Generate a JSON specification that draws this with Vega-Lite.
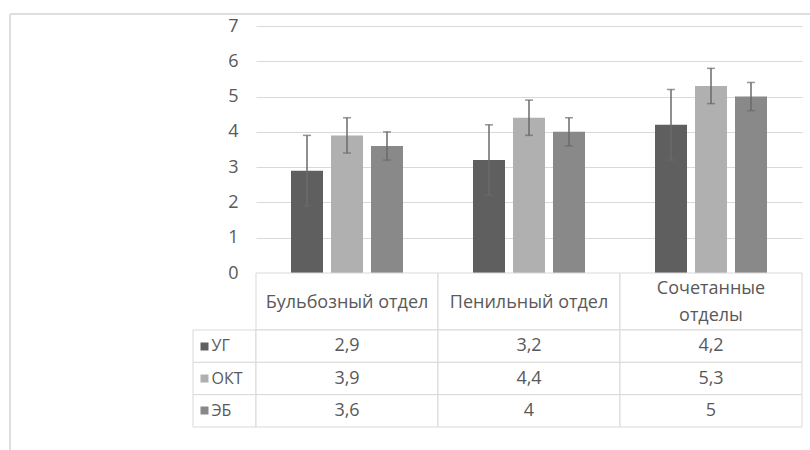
{
  "$schema": "https://vega.github.io/schema/vega-lite/v6.json",
  "padding": {"left": 9, "top": 13, "right": 0, "bottom": 0},
  "background": "white",
  "config": {
    "view": {"stroke": null},
    "font": "Open Sans",
    "locale": {"number": {"decimal": ",", "thousands": " ", "grouping": [3], "currency": ["", ""]}}
  },
  "datasets": {
    "d": [
      {"cat": "Бульбозный отдел", "series": "УГ", "value": 2.9, "lo": 1.9, "hi": 3.9},
      {"cat": "Бульбозный отдел", "series": "ОКТ", "value": 3.9, "lo": 3.4, "hi": 4.4},
      {"cat": "Бульбозный отдел", "series": "ЭБ", "value": 3.6, "lo": 3.2, "hi": 4.0},
      {"cat": "Пенильный отдел", "series": "УГ", "value": 3.2, "lo": 2.2, "hi": 4.2},
      {"cat": "Пенильный отдел", "series": "ОКТ", "value": 4.4, "lo": 3.9, "hi": 4.9},
      {"cat": "Пенильный отдел", "series": "ЭБ", "value": 4.0, "lo": 3.6, "hi": 4.4},
      {"cat": "Сочетанные отделы", "series": "УГ", "value": 4.2, "lo": 3.2, "hi": 5.2},
      {"cat": "Сочетанные отделы", "series": "ОКТ", "value": 5.3, "lo": 4.8, "hi": 5.8},
      {"cat": "Сочетанные отделы", "series": "ЭБ", "value": 5.0, "lo": 4.6, "hi": 5.4}
    ],
    "h": [
      {"cat": "Бульбозный отдел", "header": "Бульбозный отдел"},
      {"cat": "Пенильный отдел", "header": "Пенильный отдел"},
      {"cat": "Сочетанные отделы", "header": "Сочетанные\nотделы"}
    ],
    "s": [
      {"series": "УГ"},
      {"series": "ОКТ"},
      {"series": "ЭБ"}
    ],
    "one": [{}]
  },
  "columns": 4,
  "spacing": 0,
  "bounds": "flush",
  "align": "each",
  "resolve": {"scale": {"x": "independent", "y": "independent", "color": "independent", "xOffset": "independent"}},
  "concat": [
    {
      "width": 183,
      "height": 12,
      "data": {"name": "one"},
      "layer": [
        {
          "mark": {"type": "rule", "color": "#dedede", "strokeWidth": 2},
          "encoding": {"y": {"datum": 1, "type": "quantitative", "scale": {"domain": [0, 1]}, "axis": null}}
        },
        {
          "mark": {"type": "rule", "color": "#dedede", "strokeWidth": 2},
          "encoding": {"x": {"datum": 0, "type": "quantitative", "scale": {"domain": [0, 1]}, "axis": null}}
        }
      ]
    },
    {
      "width": 63,
      "height": 12,
      "data": {"name": "one"},
      "mark": {"type": "rule", "color": "#dedede", "strokeWidth": 2},
      "encoding": {"y": {"datum": 1, "type": "quantitative", "scale": {"domain": [0, 1]}, "axis": null}}
    },
    {
      "width": 546,
      "height": 12,
      "data": {"name": "one"},
      "mark": {"type": "rule", "color": "#dedede", "strokeWidth": 2},
      "encoding": {"y": {"datum": 1, "type": "quantitative", "scale": {"domain": [0, 1]}, "axis": null}}
    },
    {
      "width": 9,
      "height": 12,
      "data": {"name": "one"},
      "mark": {"type": "rule", "color": "#dedede", "strokeWidth": 2},
      "encoding": {"y": {"datum": 1, "type": "quantitative", "scale": {"domain": [0, 1]}, "axis": null}}
    },
    {
      "width": 183,
      "height": 247,
      "data": {"name": "one"},
      "mark": {"type": "rule", "color": "#dedede", "strokeWidth": 2},
      "encoding": {"x": {"datum": 0, "type": "quantitative", "scale": {"domain": [0, 1]}, "axis": null}}
    },
    {
      "width": 63,
      "height": 247,
      "data": {"name": "one"},
      "mark": {"type": "point", "opacity": 0},
      "encoding": {}
    },
    {
      "width": 546,
      "height": 247,
      "data": {"name": "d"},
      "encoding": {
        "x": {
          "field": "cat",
          "type": "nominal",
          "scale": {"domain": ["Бульбозный отдел", "Пенильный отдел", "Сочетанные отделы"], "paddingInner": 0, "paddingOuter": 0},
          "axis": null
        },
        "xOffset": {
          "field": "series",
          "type": "nominal",
          "scale": {"domain": ["УГ", "ОКТ", "ЭБ"], "paddingInner": 0.2, "paddingOuter": 0.875}
        }
      },
      "layer": [
        {
          "mark": {"type": "bar"},
          "encoding": {
            "y": {
              "field": "value",
              "type": "quantitative",
              "title": null,
              "scale": {"domain": [0, 7], "nice": false},
              "axis": {
                "values": [0, 1, 2, 3, 4, 5, 6, 7],
                "labelOverlap": false,
                "grid": true,
                "gridColor": "#d9d9d9",
                "gridWidth": 1,
                "domain": false,
                "ticks": false,
                "labelFontSize": 18,
                "labelColor": "#595959",
                "labelFont": "Open Sans",
                "labelPadding": 18
              }
            },
            "color": {
              "field": "series",
              "type": "nominal",
              "scale": {"domain": ["УГ", "ОКТ", "ЭБ"], "range": ["#5f5f5f", "#b0b0b0", "#898989"]},
              "legend": null
            }
          }
        },
        {
          "mark": {"type": "rule", "color": "#6a6a6a", "strokeWidth": 1.5},
          "encoding": {
            "y": {
              "field": "lo",
              "type": "quantitative",
              "title": null,
              "scale": {"domain": [0, 7], "nice": false},
              "axis": {
                "values": [0, 1, 2, 3, 4, 5, 6, 7],
                "labelOverlap": false,
                "grid": true,
                "gridColor": "#d9d9d9",
                "gridWidth": 1,
                "domain": false,
                "ticks": false,
                "labelFontSize": 18,
                "labelColor": "#595959",
                "labelFont": "Open Sans",
                "labelPadding": 18
              }
            },
            "y2": {"field": "hi"}
          }
        },
        {
          "mark": {"type": "tick", "color": "#6a6a6a", "thickness": 1.5, "size": 8},
          "encoding": {
            "y": {
              "field": "hi",
              "type": "quantitative",
              "title": null,
              "scale": {"domain": [0, 7], "nice": false},
              "axis": {
                "values": [0, 1, 2, 3, 4, 5, 6, 7],
                "labelOverlap": false,
                "grid": true,
                "gridColor": "#d9d9d9",
                "gridWidth": 1,
                "domain": false,
                "ticks": false,
                "labelFontSize": 18,
                "labelColor": "#595959",
                "labelFont": "Open Sans",
                "labelPadding": 18
              }
            }
          }
        },
        {
          "mark": {"type": "tick", "color": "#6a6a6a", "thickness": 1.5, "size": 8},
          "encoding": {
            "y": {
              "field": "lo",
              "type": "quantitative",
              "title": null,
              "scale": {"domain": [0, 7], "nice": false},
              "axis": {
                "values": [0, 1, 2, 3, 4, 5, 6, 7],
                "labelOverlap": false,
                "grid": true,
                "gridColor": "#d9d9d9",
                "gridWidth": 1,
                "domain": false,
                "ticks": false,
                "labelFontSize": 18,
                "labelColor": "#595959",
                "labelFont": "Open Sans",
                "labelPadding": 18
              }
            }
          }
        }
      ]
    },
    {
      "width": 9,
      "height": 247,
      "data": {"name": "one"},
      "mark": {"type": "point", "opacity": 0},
      "encoding": {}
    },
    {
      "width": 183,
      "height": 57,
      "data": {"name": "one"},
      "mark": {"type": "rule", "color": "#dedede", "strokeWidth": 2},
      "encoding": {"x": {"datum": 0, "type": "quantitative", "scale": {"domain": [0, 1]}, "axis": null}}
    },
    {
      "width": 63,
      "height": 57,
      "data": {"name": "one"},
      "mark": {"type": "point", "opacity": 0},
      "encoding": {}
    },
    {
      "width": 546,
      "height": 57,
      "data": {"name": "h"},
      "encoding": {
        "x": {
          "field": "cat",
          "type": "nominal",
          "scale": {"domain": ["Бульбозный отдел", "Пенильный отдел", "Сочетанные отделы"], "paddingInner": 0, "paddingOuter": 0},
          "axis": null
        }
      },
      "layer": [
        {"mark": {"type": "rect", "fill": "white", "stroke": "#d9d9d9", "strokeWidth": 1}},
        {
          "transform": [{"filter": "indexof(datum.header, '\\n') < 0"}],
          "mark": {"type": "text", "fontSize": 18, "color": "#595959", "font": "Open Sans", "dy": 1},
          "encoding": {"text": {"field": "header"}}
        },
        {
          "transform": [{"filter": "indexof(datum.header, '\\n') >= 0"}],
          "mark": {"type": "text", "fontSize": 18, "color": "#595959", "lineBreak": "\n", "lineHeight": 27, "font": "Open Sans", "dy": -13},
          "encoding": {"text": {"field": "header"}}
        }
      ]
    },
    {
      "width": 9,
      "height": 57,
      "data": {"name": "one"},
      "mark": {"type": "point", "opacity": 0},
      "encoding": {}
    },
    {
      "width": 183,
      "height": 97,
      "data": {"name": "one"},
      "mark": {"type": "rule", "color": "#dedede", "strokeWidth": 2},
      "encoding": {"x": {"datum": 0, "type": "quantitative", "scale": {"domain": [0, 1]}, "axis": null}}
    },
    {
      "width": 63,
      "height": 97,
      "data": {"name": "s"},
      "encoding": {
        "y": {
          "field": "series",
          "type": "nominal",
          "title": null,
          "scale": {"domain": ["УГ", "ОКТ", "ЭБ"], "paddingInner": 0, "paddingOuter": 0},
          "axis": {
            "orient": "right",
            "offset": -56,
            "domain": false,
            "grid": false,
            "tickSize": 8,
            "tickWidth": 8,
            "tickColor": {
              "condition": [
                {"test": "datum.value === 'УГ'", "value": "#5f5f5f"},
                {"test": "datum.value === 'ОКТ'", "value": "#b0b0b0"}
              ],
              "value": "#898989"
            },
            "labelPadding": 3,
            "labelFontSize": 16,
            "labelColor": "#595959",
            "labelFont": "Open Sans"
          }
        }
      },
      "mark": {"type": "rect", "fill": "white", "stroke": "#d9d9d9", "strokeWidth": 1}
    },
    {
      "width": 546,
      "height": 97,
      "data": {"name": "d"},
      "encoding": {
        "x": {
          "field": "cat",
          "type": "nominal",
          "scale": {"domain": ["Бульбозный отдел", "Пенильный отдел", "Сочетанные отделы"], "paddingInner": 0, "paddingOuter": 0},
          "axis": null
        },
        "y": {
          "field": "series",
          "type": "nominal",
          "scale": {"domain": ["УГ", "ОКТ", "ЭБ"], "paddingInner": 0, "paddingOuter": 0},
          "axis": null
        }
      },
      "layer": [
        {"mark": {"type": "rect", "fill": "white", "stroke": "#d9d9d9", "strokeWidth": 1}},
        {
          "mark": {"type": "text", "fontSize": 18, "color": "#595959", "font": "Open Sans"},
          "encoding": {"text": {"field": "value", "type": "quantitative", "format": "~g"}}
        }
      ]
    },
    {
      "width": 9,
      "height": 97,
      "data": {"name": "one"},
      "mark": {"type": "point", "opacity": 0},
      "encoding": {}
    },
    {
      "width": 183,
      "height": 23,
      "data": {"name": "one"},
      "mark": {"type": "rule", "color": "#dedede", "strokeWidth": 2},
      "encoding": {"x": {"datum": 0, "type": "quantitative", "scale": {"domain": [0, 1]}, "axis": null}}
    },
    {
      "width": 63,
      "height": 23,
      "data": {"name": "one"},
      "mark": {"type": "point", "opacity": 0},
      "encoding": {}
    },
    {
      "width": 546,
      "height": 23,
      "data": {"name": "one"},
      "mark": {"type": "point", "opacity": 0},
      "encoding": {}
    },
    {
      "width": 9,
      "height": 23,
      "data": {"name": "one"},
      "mark": {"type": "point", "opacity": 0},
      "encoding": {}
    }
  ]
}
